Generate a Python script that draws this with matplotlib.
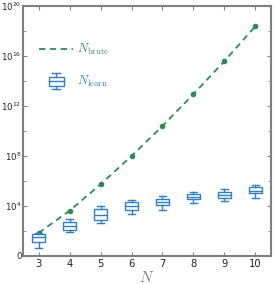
import numpy as np
import matplotlib
matplotlib.use('Agg')
import matplotlib.pyplot as plt
from matplotlib.legend_handler import HandlerBase
from matplotlib.lines import Line2D
from matplotlib.patches import Rectangle
from matplotlib.ticker import FixedLocator, FuncFormatter

plt.rcParams['mathtext.fontset'] = 'cm'

# Данные (log10 значений)
n_vals = [3, 4, 5, 6, 7, 8, 9, 10]
brute_log = [1.84, 3.62, 5.73, 8.0, 10.4, 12.96, 15.6, 18.4]
learn_whislo = [0.61, 1.9, 2.64, 3.36, 3.66, 4.22, 4.38, 4.66]
learn_q1 = [1.10, 2.06, 2.86, 3.68, 4.06, 4.54, 4.66, 5.02]
learn_med = [1.55, 2.4, 3.28, 4.0, 4.3, 4.75, 4.9, 5.22]
learn_q3 = [1.76, 2.7, 3.73, 4.3, 4.54, 4.96, 5.14, 5.5]
learn_whishi = [1.86, 2.94, 4.02, 4.48, 4.8, 5.14, 5.34, 5.66]

green = '#2e8a5a'
blue = '#2f7fc1'
grey = '#808080'

fig = plt.figure(figsize=(2.74, 2.84), dpi=100)
ax = fig.add_axes([0.084, 0.0986, 0.905, 0.880])

ax.plot(n_vals, [10 ** v for v in brute_log], '--', color=green, lw=1.3,
        marker='o', ms=3, dashes=(3.5, 2.5))

stats = []
for i in range(len(n_vals)):
    stats.append({
        'whislo': 10 ** learn_whislo[i], 'q1': 10 ** learn_q1[i],
        'med': 10 ** learn_med[i], 'q3': 10 ** learn_q3[i],
        'whishi': 10 ** learn_whishi[i], 'fliers': [],
    })
ax.bxp(stats, positions=n_vals, widths=0.45, patch_artist=True,
       boxprops=dict(facecolor='white', edgecolor=blue, lw=1.0),
       medianprops=dict(color=blue, lw=1.0),
       whiskerprops=dict(color=blue, lw=1.0),
       capprops=dict(color=blue, lw=1.0), manage_ticks=False)

ax.set_yscale('log')
ax.set_ylim(1, 1e20)
ax.set_xlim(2.5, 10.5)
ax.set_xticks(n_vals)
ax.yaxis.set_major_locator(FixedLocator([10.0 ** k for k in range(0, 21, 4)]))
ax.yaxis.set_minor_locator(FixedLocator([10.0 ** k for k in range(2, 20, 4)]))


def fmt(y, pos):
    k = int(round(np.log10(y)))
    if k == 0:
        return '0'
    return r'$\mathregular{10^{%d}}$' % k


ax.yaxis.set_major_formatter(FuncFormatter(fmt))
ax.yaxis.set_minor_formatter(FuncFormatter(lambda y, p: ''))
for lbl in ax.get_xticklabels():
    lbl.set_fontsize(7.2)

for s in ax.spines.values():
    s.set_color(grey)
    s.set_linewidth(1.5)
ax.tick_params(which='both', direction='in', top=True, right=True,
               color=grey, labelcolor='#222222', pad=1)
ax.tick_params(axis='y', labelsize=6.2)
ax.tick_params(axis='x', labelsize=7.2, pad=2)
ax.tick_params(which='major', length=3)
ax.tick_params(which='minor', length=2)
ax.set_xlabel(r'$N$', fontsize=11, color=grey, labelpad=1)


class BoxHandler(HandlerBase):
    def create_artists(self, legend, orig, xd, yd, w, h, fontsize, trans):
        cx = xd + w / 2
        bw = w * 0.45
        arts = [
            Rectangle((cx - bw / 2, yd - h * 0.1), bw, h * 1.0,
                      facecolor='white', edgecolor=blue, lw=1.0, transform=trans),
            Line2D([cx - bw / 2, cx + bw / 2], [yd + h * 0.4] * 2, color=blue, lw=1.0, transform=trans),
            Line2D([cx, cx], [yd + h * 0.9, yd + h * 1.3], color=blue, lw=1.0, transform=trans),
            Line2D([cx, cx], [yd - h * 0.1, yd - h * 0.5], color=blue, lw=1.0, transform=trans),
            Line2D([cx - bw / 4, cx + bw / 4], [yd + h * 1.3] * 2, color=blue, lw=1.0, transform=trans),
            Line2D([cx - bw / 4, cx + bw / 4], [yd - h * 0.5] * 2, color=blue, lw=1.0, transform=trans),
        ]
        return arts


h_brute = Line2D([], [], ls='--', color=green, lw=1.3, dashes=(3.5, 2.5))
h_learn = Rectangle((0, 0), 1, 1)
leg = ax.legend([h_brute, h_learn], [r'$N_{\rm brute}$', r'$N_{\rm learn}$'],
                handler_map={Rectangle: BoxHandler()}, loc='upper left',
                bbox_to_anchor=(0.02, 0.9), frameon=False, fontsize=9,
                handlelength=2.7, labelspacing=1.3, handletextpad=0.3)
leg.get_texts()[0].set_color(green)
leg.get_texts()[1].set_color(blue)

fig.savefig('out.png', dpi=100)
